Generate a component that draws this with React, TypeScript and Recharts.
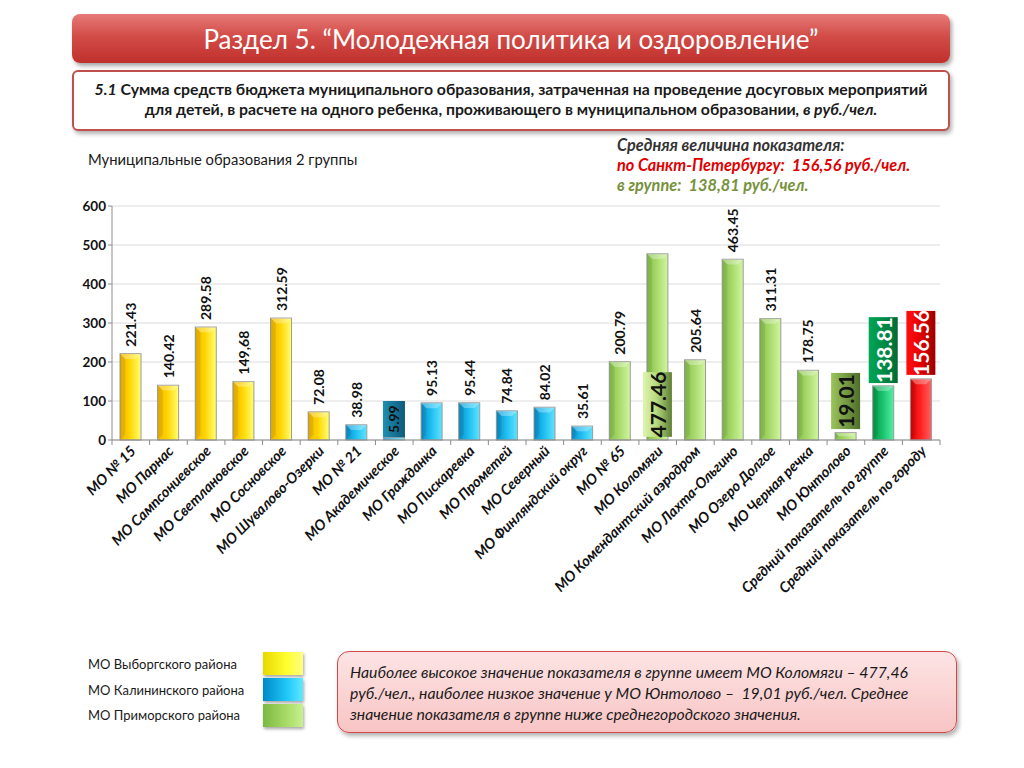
import React from 'react'
import { BarChart, Bar, XAxis, YAxis, CartesianGrid, LabelList, Cell } from 'recharts'

const categories = [
  'МО № 15', 'МО Парнас', 'МО Сампсониевское', 'МО Светлановское', 'МО Сосновское',
  'МО Шувалово-Озерки', 'МО № 21', 'МО Академическое', 'МО Гражданка', 'МО Пискаревка',
  'МО Прометей', 'МО Северный', 'МО Финляндский округ', 'МО № 65', 'МО Коломяги',
  'МО Комендантский аэродром', 'МО Лахта-Ольгино', 'МО Озеро Долгое', 'МО Черная речка',
  'МО Юнтолово', 'Средний показатель по группе', 'Средний показатель по городу',
]
const values = [
  221.43, 140.42, 289.58, 149.68, 312.59, 72.08, 38.98, 5.99, 95.13, 95.44, 74.84,
  84.02, 35.61, 200.79, 477.46, 205.64, 463.45, 311.31, 178.75, 19.01, 138.81, 156.56,
]
// text as printed on the slide (one label uses a comma)
const valueLabels = [
  '221.43', '140.42', '289.58', '149,68', '312.59', '72.08', '38.98', '5.99', '95.13', '95.44', '74.84',
  '84.02', '35.61', '200.79', '477.46', '205.64', '463.45', '311.31', '178.75', '19.01', '138.81', '156.56',
]
// v = Выборгский, k = Калининский, p = Приморский, g = group avg, c = city avg
const districts = [
  'v', 'v', 'v', 'v', 'v', 'v', 'k', 'k', 'k', 'k', 'k', 'k', 'k',
  'p', 'p', 'p', 'p', 'p', 'p', 'p', 'g', 'c',
]
const yTicks = [0, 100, 200, 300, 400, 500, 600]

// boxed labels: index -> value range of the box
const boxedLabels: Record<number, { from: number; to: number; fill: string; color: string; size: number }> = {
  7: { from: 7, to: 100, fill: 'url(#boxTeal)', color: '#111', size: 14 },
  14: { from: 8, to: 174, fill: 'url(#boxOlive)', color: '#111', size: 21 },
  19: { from: 28, to: 172, fill: 'url(#boxOlive2)', color: '#111', size: 21 },
  20: { from: 146, to: 315, fill: 'url(#boxGreen)', color: '#fff', size: 21 },
  21: { from: 167, to: 331, fill: 'url(#boxRed)', color: '#fff', size: 21 },
}

const legendItems = [
  { name: 'МО Выборгского района', key: 'v' },
  { name: 'МО Калининского района', key: 'k' },
  { name: 'МО Приморского района', key: 'p' },
]

const FONT = 'Lato, "Open Sans", sans-serif'

const barFill: Record<string, string> = {
  v: 'url(#gradY)', k: 'url(#gradB)', p: 'url(#gradG)', g: 'url(#gradDG)', c: 'url(#gradR)',
}
const legendBg: Record<string, string> = {
  v: 'linear-gradient(90deg,#e8d800,#ffff30 60%,#ffff80)',
  k: 'linear-gradient(90deg,#0088c8,#20c8f8 60%,#60e8ff)',
  p: 'linear-gradient(90deg,#7cb840,#a8dc68 60%,#c8f090)',
}

function BevelBar(props: any) {
  const { x, y, width, height, fill } = props
  if (height <= 0) return null
  const b = Math.min(6, width / 4, height / 2)
  return (
    <g>
      <rect x={x} y={y} width={width} height={height} fill={fill} stroke="#9a9a9a" strokeWidth={1} />
      <polygon
        points={`${x},${y} ${x + width},${y} ${x + width - b},${y + b} ${x + b},${y + b}`}
        fill="#fff" opacity={0.3}
      />
      <polygon
        points={`${x},${y} ${x + b},${y + b} ${x + b},${y + height - b} ${x},${y + height}`}
        fill="#000" opacity={0.08}
      />
    </g>
  )
}

function ValueLabel(props: any) {
  const { x, y, width, height, index } = props
  const v = values[index]
  const cx = x + width / 2
  const bottom = y + height
  const box = boxedLabels[index]
  if (box) {
    const ppu = height / v
    const top = bottom - box.to * ppu
    const bot = bottom - box.from * ppu
    const bw = index === 7 ? width + 1 : width + 8
    const my = (top + bot) / 2
    return (
      <g>
        <rect x={cx - bw / 2} y={top} width={bw} height={bot - top} fill={box.fill} />
        <text
          x={cx} y={my} transform={`rotate(-90 ${cx} ${my})`} textAnchor="middle" dominantBaseline="central"
          fontFamily={FONT} fontWeight={700} fontSize={box.size} fill={box.color}
        >
          {valueLabels[index]}
        </text>
      </g>
    )
  }
  const ly = y - 7
  return (
    <text
      x={cx} y={ly} transform={`rotate(-90 ${cx} ${ly})`} textAnchor="start" dominantBaseline="central"
      fontFamily={FONT} fontWeight={700} fontSize={14} fill="#111"
    >
      {valueLabels[index]}
    </text>
  )
}

function XTick(props: any) {
  const { x, y, payload, index } = props
  const ax = x + 6
  const ay = y + 4
  const off = payload.offset || 0
  const axisY = y - 8
  return (
    <g>
      {off > 0 && <line x1={x - off} x2={x - off} y1={axisY} y2={axisY + 5} stroke="#8c8c8c" />}
      {off > 0 && index === categories.length - 1 && (
        <line x1={x + off} x2={x + off} y1={axisY} y2={axisY + 5} stroke="#8c8c8c" />
      )}
      <text
        x={ax} y={ay} transform={`rotate(-45 ${ax} ${ay})`} textAnchor="end"
        fontFamily={FONT} fontWeight={700} fontStyle="italic" fontSize={14.5} fill="#111"
      >
        {payload.value}
      </text>
    </g>
  )
}

const grad = (id: string, a: string, b: string, c: string) => (
  <linearGradient id={id} x1="0" y1="0" x2="1" y2="0">
    <stop offset="0" stopColor={a} />
    <stop offset="0.45" stopColor={b} />
    <stop offset="1" stopColor={c} />
  </linearGradient>
)

export default function App() {
  const data = categories.map((name, i) => ({ name, value: values[i], district: districts[i] }))

  return (
    <div style={{ position: 'absolute', left: 0, top: 0, width: 1024, height: 768, background: '#fff', fontFamily: FONT, overflow: 'hidden' }}>
      {/* header */}
      <div style={{
        position: 'absolute', left: 72, top: 14, width: 878, height: 49, borderRadius: 8,
        background: 'linear-gradient(180deg,#e67a78 0%,#d24c48 45%,#c0302c 100%)',
        boxShadow: '2px 3px 4px rgba(0,0,0,0.35)', color: '#fff', fontSize: 26,
        display: 'flex', alignItems: 'center', justifyContent: 'center', fontFamily: FONT,
      }}>
        Раздел 5. “Молодежная политика и оздоровление”
      </div>

      {/* subtitle box */}
      <div style={{
        position: 'absolute', left: 72, top: 70, width: 874, height: 50, borderRadius: 6,
        border: '2px solid #c0504d', background: '#fff', boxShadow: '2px 3px 4px rgba(0,0,0,0.3)',
        textAlign: 'center', fontWeight: 700, fontSize: 15.8, lineHeight: '20px', color: '#1a1a1a',
        paddingTop: 7, boxSizing: 'content-box', whiteSpace: 'nowrap',
      }}>
        <i>5.1</i> Сумма средств бюджета муниципального образования, затраченная на проведение досуговых мероприятий
        <br />
        для детей, в расчете на одного ребенка, проживающего в муниципальном образовании<i>, в руб./чел.</i>
      </div>

      <div style={{ position: 'absolute', left: 88, top: 150, fontSize: 14.8, color: '#1a1a1a' }}>
        Муниципальные образования 2 группы
      </div>

      <div style={{ position: 'absolute', left: 617, top: 135, fontSize: 16.3, fontWeight: 700, fontStyle: 'italic', lineHeight: '20px', whiteSpace: 'nowrap' }}>
        <div style={{ color: '#333' }}>Средняя величина показателя:</div>
        <div style={{ color: '#e00000' }}>по Санкт-Петербургу:&nbsp; 156,56 руб./чел.</div>
        <div style={{ color: '#76923c' }}>в группе:&nbsp; 138,81 руб./чел.</div>
      </div>

      <div style={{ position: 'absolute', left: 0, top: 0 }}>
        <BarChart
          width={1024} height={768} data={data}
          margin={{ top: 206, left: 72, right: 84, bottom: 128 }}
          barSize={21}
        >
          <defs>
            {grad('gradY', '#f2b600', '#ffd400', '#ffff70')}
            {grad('gradB', '#0a8ec8', '#1cbcf0', '#5ee4ff')}
            {grad('gradG', '#86c24a', '#a6d86a', '#d2f6a0')}
            {grad('gradDG', '#009a48', '#18c068', '#50f0a8')}
            {grad('gradR', '#d80000', '#ff1e1e', '#ff6060')}
            {grad('boxTeal', '#2090b0', '#17769a', '#0e5a78')}
            {grad('boxOlive', '#dff5b0', '#b8dc80', '#5e7e34')}
            {grad('boxOlive2', '#9cc45c', '#7aa046', '#4f6e2a')}
            {grad('boxGreen', '#00a656', '#009048', '#006a34')}
            {grad('boxRed', '#ff1010', '#e80000', '#9a0000')}
          </defs>
          <CartesianGrid vertical={false} stroke="#dcdcdc" />
          <XAxis
            dataKey="name" interval={0} height={200} tick={<XTick />}
            axisLine={{ stroke: '#8c8c8c' }} tickLine={false}
          />
          <YAxis
            width={40} domain={[0, 600]} ticks={yTicks} interval={0}
            axisLine={{ stroke: '#8c8c8c' }} tickLine={{ stroke: '#8c8c8c' }} tickSize={4}
            tick={{ fontFamily: FONT, fontWeight: 700, fontSize: 13.5, fill: '#111' }}
          />
          <Bar dataKey="value" isAnimationActive={false} shape={<BevelBar />}>
            {data.map((d, i) => (
              <Cell key={i} fill={barFill[d.district]} />
            ))}
            <LabelList dataKey="value" content={<ValueLabel />} />
          </Bar>
        </BarChart>
      </div>

      {/* legend */}
      {legendItems.map((it, i) => (
        <React.Fragment key={it.key}>
          <div style={{ position: 'absolute', left: 88, top: 656 + i * 25.5, fontSize: 13, color: '#1a1a1a' }}>{it.name}</div>
          <div style={{
            position: 'absolute', left: 263, top: 652 + i * 26, width: 40, height: 23,
            background: legendBg[it.key], boxShadow: '1px 2px 3px rgba(0,0,0,0.35)',
          }} />
        </React.Fragment>
      ))}

      {/* conclusion box */}
      <div style={{
        position: 'absolute', left: 337, top: 651, width: 594, height: 62, borderRadius: 12,
        border: '1.5px solid #d04848', background: 'linear-gradient(180deg,#fde4e4,#f8c4c4)',
        boxShadow: '2px 3px 4px rgba(0,0,0,0.3)', padding: '9px 12px', fontSize: 15.8, fontStyle: 'italic',
        lineHeight: '21px', color: '#1a1a1a',
      }}>
        Наиболее высокое значение показателя в группе имеет МО Коломяги – 477,46 руб./чел., наиболее низкое значение у МО Юнтолово –&nbsp; 19,01 руб./чел. Среднее значение показателя в группе ниже среднегородского значения.
      </div>
    </div>
  )
}
